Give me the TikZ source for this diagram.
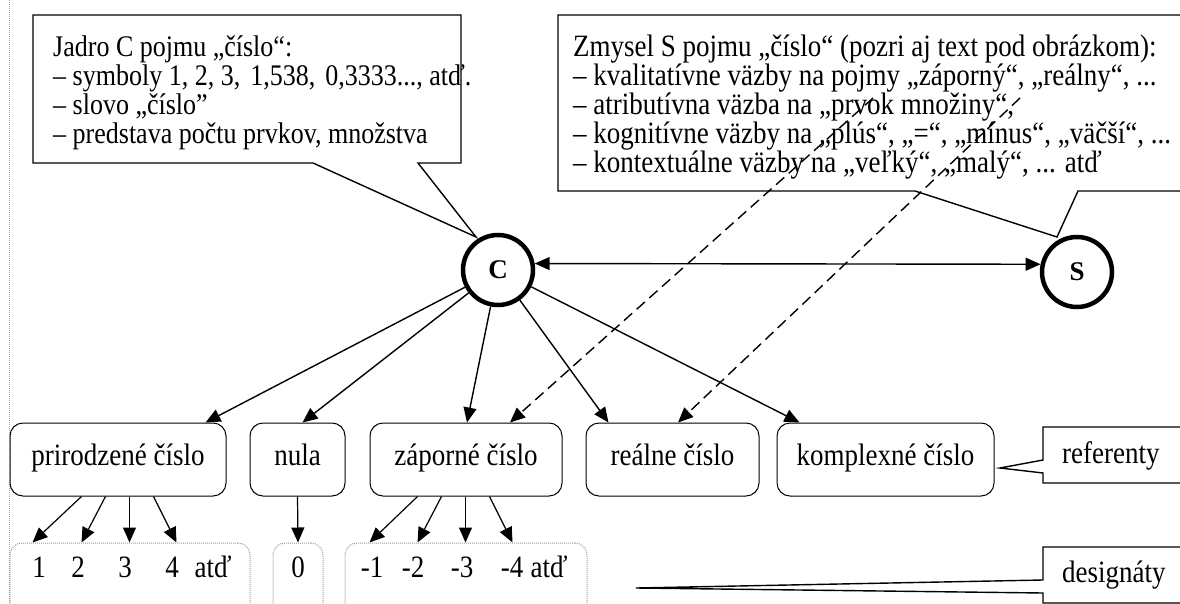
\documentclass[tikz,border=0pt]{standalone}
\usepackage{fontspec}
\usepackage{graphicx}
\setmainfont{Liberation Serif}
\usetikzlibrary{arrows.meta,calc}
% slightly tall lettering
\newcommand\tallt[1]{\scalebox{1}[1.15]{#1}}
\begin{document}
\begin{tikzpicture}[x=1pt,y=-1pt,
  txt/.style={font=\fontsize{27}{30}\selectfont, inner sep=0pt, anchor=base west},
  ctxt/.style={txt, font=\fontsize{26}{30}\selectfont},
  callout/.style={draw, line width=1.4pt, line join=miter},
  concept/.style={circle, draw, line width=4.5pt, minimum size=70pt, inner sep=0pt,
    font=\fontsize{27}{30}\selectfont\bfseries},
  refbox/.style={draw, rounded corners=13pt, line width=1pt, minimum height=73pt,
    inner sep=0pt, text height=18pt, text depth=6pt, font=\fontsize{27}{30}\selectfont},
  desbox/.style={draw=gray!80, dash pattern=on 1pt off 1pt, rounded corners=12pt,
    line width=1pt, inner sep=0pt, minimum height=98pt},
  num/.style={font=\fontsize{27}{30}\selectfont, inner sep=0pt, anchor=base},
  link/.style={line width=1.4pt, -{Triangle[length=15pt,width=13pt]}},
  dlink/.style={link, dash pattern=on 11pt off 6pt},
  slink/.style={line width=1.2pt, -{Triangle[length=15pt,width=13pt]}},
]
\clip (0,0) rectangle (1180,604);

% margin line
\draw[gray!70, line width=1pt, dash pattern=on 1pt off 1pt] (9,0) -- (9,604);

% callout of the core C
\draw[callout] (33,15) -- (461,15) -- (461,163) -- (418,163) -- (476,237) -- (313,163) -- (33,163) -- cycle;
\node[ctxt] (c1) at (53,57)  {\tallt{Jadro C pojmu „číslo“:}};
\node[ctxt] (c2) at (53,86)  {\tallt{– symboly 1, 2, 3,\hspace{10pt}1,538,\hspace{10pt}0,3333..., atď.}};
\node[ctxt] (c3) at (53,115) {\tallt{– slovo „číslo”}};
\node[ctxt] (c4) at (53,144) {\tallt{– predstava počtu prvkov, množstva}};

% callout of the sense S
\draw[callout] (1200,15) -- (558,15) -- (558,191) -- (915,191) -- (1057,237) -- (1078,191) -- (1200,191);
\node[txt] (s1) at (573,57)  {\tallt{Zmysel S pojmu „číslo“ (pozri aj text pod obrázkom):}};
\node[txt] (s2) at (573,86)  {\tallt{– kvalitatívne väzby na pojmy „záporný“, „reálny“, ...}};
\node[txt] (s3) at (573,115) {\tallt{– atributívna väzba na „prvok množiny“,}};
\node[txt] (s4) at (573,144) {\tallt{– kognitívne väzby na „plús“, „=“, „mínus“, „väčší“, ...}};
\node[txt] (s5) at (573,173) {\tallt{– kontextuálne väzby na „veľký“, „malý“, ... atď}};

% concepts
\node[concept] (C) at (498,270) {C};
\node[concept] (S) at (1077,272) {S};
\draw[line width=1.4pt, {Triangle[length=15pt,width=13pt]}-{Triangle[length=15pt,width=13pt]}] (C.10) -- (S.168);

% referents
\node[refbox, minimum width=216pt] (pz) at (118,459.5) {\tallt{prirodzené číslo}};
\node[refbox, minimum width=95pt]  (nl) at (297.5,459.5) {\tallt{nula}};
\node[refbox, minimum width=192pt] (zp) at (466,459.5) {\tallt{záporné číslo}};
\node[refbox, minimum width=173pt] (re) at (672.5,459.5) {\tallt{reálne číslo}};
\node[refbox, minimum width=217pt] (kx) at (885.5,459.5) {\tallt{komplexné číslo}};

% designates
\node[desbox, minimum width=240pt] (d1) at (130,592) {};
\node[desbox, minimum width=50pt]  (d0) at (298,592) {};
\node[desbox, minimum width=242pt] (dn) at (466,592) {};
\node[num] (n1) at (39,577)  {\tallt{1}};
\node[num] (n2) at (78,577)  {\tallt{2}};
\node[num] (n3) at (125,577) {\tallt{3}};
\node[num] (n4) at (172,577) {\tallt{4}};
\node[num] (na) at (213,577) {\tallt{atď}};
\node[num] (n0) at (298,577) {\tallt{0}};
\node[num] (m1) at (372,577) {\tallt{-1}};
\node[num] (m2) at (413,577) {\tallt{-2}};
\node[num] (m3) at (462,577) {\tallt{-3}};
\node[num] (m4) at (512,577) {\tallt{-4}};
\node[num] (ma) at (549,577) {\tallt{atď}};

% labels on the right
\draw[callout] (1200,427) -- (1043,427) -- (1043,460) -- (1000,468) -- (1043,473) -- (1043,483) -- (1200,483);
\node[txt] (lr) at (1062,463) {\tallt{referenty}};
\draw[callout] (1200,547) -- (1043,547) -- (1043,580) -- (636,588) -- (1043,593) -- (1043,603) -- (1200,603);
\node[txt] (ld) at (1062,582) {\tallt{designáty}};

% core to referents
\draw[link] (C) -- ([xshift=-21pt]pz.north east);
\draw[link] (C) -- ([xshift=5pt]nl.north);
\draw[link] (C) -- ([xshift=1pt]zp.north);
\draw[link] (C) -- ([xshift=23pt]re.north west);
\draw[link] (C) -- ([xshift=23pt]kx.north west);

% sense to referents
\coordinate (q1) at (873,98);
\coordinate (q2) at (1020,98);
\draw[dlink] (q1) -- ([xshift=44pt]zp.north);
\draw[dlink] (q2) -- ([xshift=5.5pt]re.north);

% referents to designates
\draw[slink] ([xshift=72pt]pz.south west)  -- ([xshift=23pt]d1.north west);
\draw[slink] ([xshift=96pt]pz.south west)  -- ([xshift=72pt]d1.north west);
\draw[slink] ([xshift=120pt]pz.south west) -- ([xshift=120pt]d1.north west);
\draw[slink] ([xshift=144pt]pz.south west) -- ([xshift=167pt]d1.north west);
\draw[slink] (nl.south) -- (d0.north);
\draw[slink] ([xshift=48pt]zp.south west)  -- ([xshift=25pt]dn.north west);
\draw[slink] ([xshift=72pt]zp.south west)  -- ([xshift=73pt]dn.north west);
\draw[slink] ([xshift=96pt]zp.south west)  -- ([xshift=121pt]dn.north west);
\draw[slink] ([xshift=120pt]zp.south west) -- ([xshift=168pt]dn.north west);
\end{tikzpicture}
\end{document}
